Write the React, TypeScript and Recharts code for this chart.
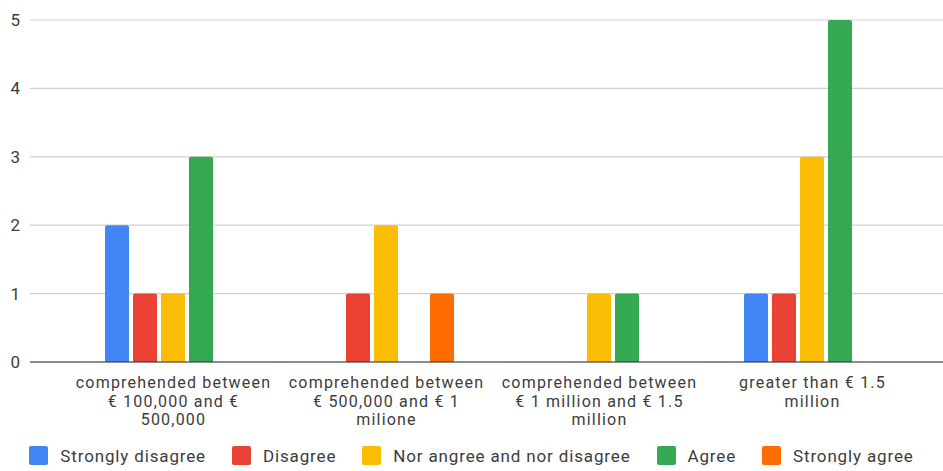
import { Bar, BarChart, CartesianGrid, Legend, XAxis, YAxis } from 'recharts';

const categories = [
  'comprehended between\n€ 100,000 and €\n500,000',
  'comprehended between\n€ 500,000 and € 1\nmilione',
  'comprehended between\n€ 1 million and € 1.5\nmillion',
  'greater than € 1.5\nmillion',
];

const seriesNames = [
  'Strongly disagree',
  'Disagree',
  'Nor angree and nor disagree',
  'Agree',
  'Strongly agree',
];
const seriesColors = ['#4285F4', '#EA4335', '#FBBC04', '#34A853', '#FF6D01'];

const stronglyDisagree = [2, 0, 0, 1];
const disagree = [1, 1, 0, 1];
const neutral = [1, 2, 1, 3];
const agree = [3, 0, 1, 5];
const stronglyAgree = [0, 1, 0, 0];

const yTicks = [0, 1, 2, 3, 4, 5];

const seriesValues = [stronglyDisagree, disagree, neutral, agree, stronglyAgree];

const chartData = categories.map((name, i) => {
  const row: Record<string, string | number> = { name };
  seriesNames.forEach((s, j) => {
    row[s] = seriesValues[j][i];
  });
  return row;
});

const FONT = 'Roboto, Arial, sans-serif';
const TEXT = '#3c3c3c';

// multi-line category label, one tspan per line
function CategoryTick({ x, y, payload }: any) {
  const lines = String(payload.value).split('\n');
  return (
    <text
      x={x}
      y={y + 24}
      textAnchor="middle"
      fill={TEXT}
      fontSize={16}
      letterSpacing={1.2}
      fontFamily={FONT}
    >
      {lines.map((line, i) => (
        <tspan key={i} x={x} dy={i === 0 ? 0 : 18.5}>
          {line}
        </tspan>
      ))}
    </text>
  );
}

function ValueTick({ y, payload }: any) {
  return (
    <text x={20} y={y} dy={6} textAnchor="end" fill={TEXT} fontSize={17} fontFamily={FONT}>
      {payload.value}
    </text>
  );
}

function LegendContent() {
  return (
    <div
      style={{
        display: 'flex',
        justifyContent: 'center',
        alignItems: 'center',
        height: 31,
        fontFamily: FONT,
        fontSize: 17,
        letterSpacing: 0.85,
        color: TEXT,
      }}
    >
      {seriesNames.map((s, i) => (
        <div key={s} style={{ display: 'flex', alignItems: 'center', marginLeft: i === 0 ? 0 : 26 }}>
          <span
            style={{
              width: 19,
              height: 19,
              borderRadius: 2,
              background: seriesColors[i],
              marginRight: 12,
              display: 'inline-block',
            }}
          />
          <span>{s}</span>
        </div>
      ))}
    </div>
  );
}

export default function App() {
  return (
    <div style={{ position: 'absolute', left: 0, top: 0, width: 943, height: 471, background: '#fff' }}>
      <BarChart
        width={943}
        height={471}
        data={chartData}
        margin={{ top: 20, right: 0, left: 0, bottom: 0 }}
        barCategoryGap={38}
        barGap={4}
      >
        <CartesianGrid vertical={false} stroke="#d0d0d0" strokeWidth={1.2} />
        <XAxis
          dataKey="name"
          interval={0}
          height={78}
          padding={{ left: 37, right: 24 }}
          tickLine={false}
          tickSize={0}
          axisLine={{ stroke: '#333', strokeWidth: 1.2 }}
          tick={<CategoryTick />}
        />
        <YAxis
          width={30}
          domain={[0, 5]}
          ticks={yTicks}
          interval={0}
          axisLine={false}
          tickLine={false}
          tick={<ValueTick />}
        />
        <Legend verticalAlign="bottom" height={31} content={<LegendContent />} />
        {seriesNames.map((s, i) => (
          <Bar
            key={s}
            dataKey={s}
            fill={seriesColors[i]}
            radius={[2, 2, 0, 0]}
            isAnimationActive={false}
          />
        ))}
      </BarChart>
    </div>
  );
}
